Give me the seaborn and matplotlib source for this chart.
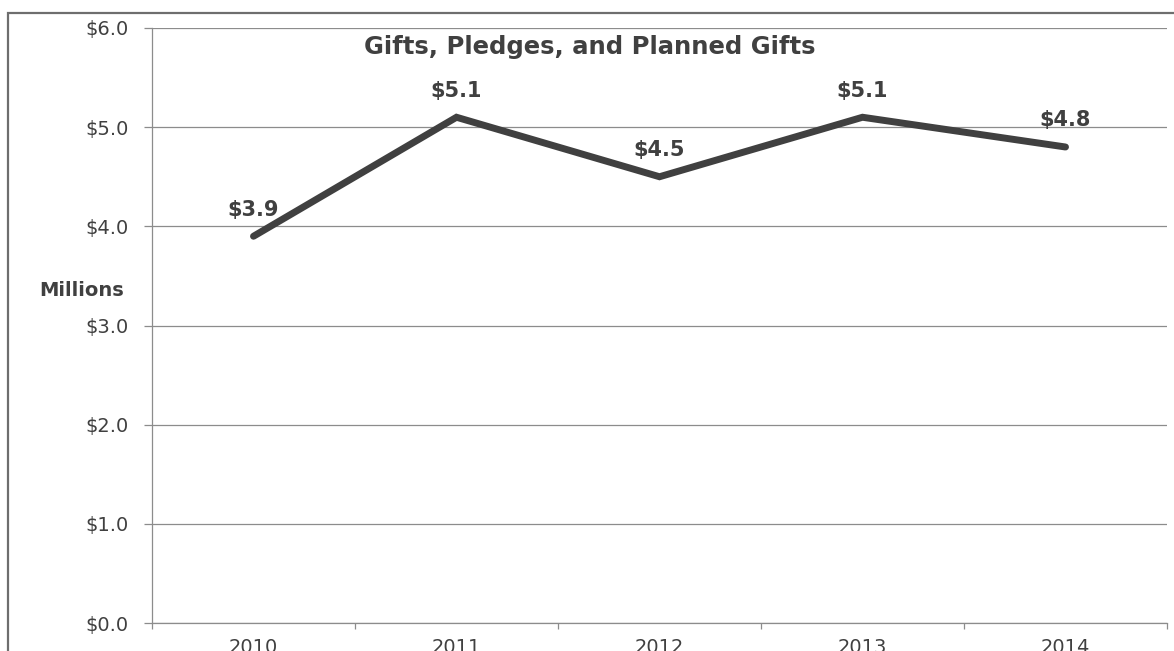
import matplotlib
matplotlib.use("Agg")
import matplotlib.pyplot as plt
from matplotlib.patches import Rectangle
from matplotlib.ticker import FixedLocator, FuncFormatter
import seaborn as sns
import pandas as pd

years = ["2010", "2011", "2012", "2013", "2014"]
amounts = [3.9, 5.1, 4.5, 5.1, 4.8]
y_ticks = [0, 1, 2, 3, 4, 5, 6]

sns.set_theme(style="white")
plt.rcParams["font.family"] = ["DejaVu Sans"]

text_color = "#404040"
grid_color = "#8c8c8c"

df = pd.DataFrame({"year": years, "amount": amounts})

fig = plt.figure(figsize=(11.74, 6.51), dpi=100)
ax = fig.add_axes([152 / 1174, 28 / 651, 1015 / 1174, 595 / 651])

sns.lineplot(data=df, x="year", y="amount", ax=ax, color="#404040",
             linewidth=5.0, sort=False, solid_joinstyle="miter",
             solid_capstyle="round")

ax.set_xlim(-0.5, len(years) - 0.5)
ax.set_ylim(0, 6)

# y axis: currency ticks with horizontal gridlines
ax.set_yticks(y_ticks)
ax.yaxis.set_major_formatter(FuncFormatter(lambda v, _: f"${v:.1f}"))
ax.grid(axis="y", color=grid_color, linewidth=0.9)
ax.grid(axis="x", visible=False)
ax.tick_params(axis="y", which="major", length=6, width=0.9, color=grid_color,
               pad=11, labelsize=14, labelcolor=text_color, left=True)

# x axis: labels centred in each category, ticks at category boundaries
ax.xaxis.set_minor_locator(FixedLocator([i - 0.5 for i in range(len(years) + 1)]))
ax.tick_params(axis="x", which="major", length=0, pad=11, labelsize=14,
               labelcolor=text_color)
ax.tick_params(axis="x", which="minor", length=4, width=0.9, color=grid_color,
               bottom=True)

for side in ("top", "right"):
    ax.spines[side].set_visible(False)
for side in ("left", "bottom"):
    ax.spines[side].set_color(grid_color)
    ax.spines[side].set_linewidth(0.9)

ax.set_xlabel("")
ax.set_ylabel("Millions", rotation=0, fontsize=14, fontweight="bold",
              color=text_color, ha="center", va="center")
ax.yaxis.set_label_coords(-0.069, 0.559)

# value labels above each point
for i, v in enumerate(amounts):
    ax.annotate(f"${v:.1f}", (i, v), xytext=(0, 12), textcoords="offset points",
                ha="center", va="bottom", fontsize=15, fontweight="bold",
                color=text_color)

fig.text(590 / 1174, 1 - 47 / 651, "Gifts, Pledges, and Planned Gifts",
         ha="center", va="center", fontsize=17.5, fontweight="bold",
         color=text_color)

# chart area border
fig.patches.append(Rectangle((8 / 1174, -0.2), 1.2, 1.2 - 13 / 651,
                             transform=fig.transFigure, fill=False,
                             edgecolor="#6e6e6e", linewidth=1.6))

fig.savefig("out.png", dpi=100)
